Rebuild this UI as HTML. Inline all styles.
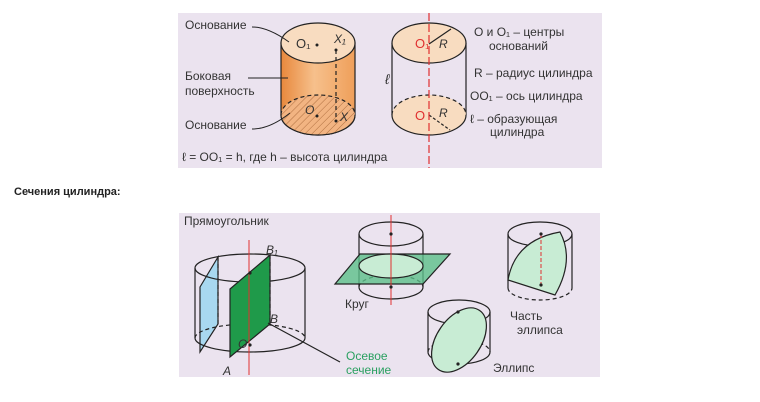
<!DOCTYPE html>
<html><head><meta charset="utf-8"><style>
body{margin:0;background:#fff;width:760px;height:402px;overflow:hidden;font-family:"Liberation Sans",sans-serif}
svg{position:absolute;left:0;top:0}
</style></head><body>
<svg width="760" height="402" viewBox="0 0 760 402" font-family="Liberation Sans, sans-serif">
<defs>
<linearGradient id="og" x1="0" x2="1"><stop offset="0" stop-color="#e8883c"/><stop offset="0.45" stop-color="#f6c08c"/><stop offset="1" stop-color="#ef9f5a"/></linearGradient>
<pattern id="hatch" width="5" height="5" patternUnits="userSpaceOnUse" patternTransform="rotate(45)"><rect width="5" height="5" fill="#f2b482"/><line x1="0" y1="0" x2="0" y2="5" stroke="#b07040" stroke-width="1"/></pattern>
</defs>
<g>
<rect x="178" y="13" width="424" height="155" fill="#ebe3ef"/>
<g stroke="#222" stroke-width="1.2">
<path d="M281 43 L281 115 A37 20 0 0 0 355 115 L355 43 Z" fill="url(#og)"/>
<ellipse cx="318" cy="115" rx="37" ry="20" fill="url(#hatch)" stroke="none"/>
<path d="M281 115 A37 20 0 0 1 355 115" fill="none" stroke-dasharray="4 3"/>
<path d="M281 115 A37 20 0 0 0 355 115" fill="none"/>
<ellipse cx="318" cy="43" rx="37" ry="20" fill="#f8dcc0"/>
<line x1="336" y1="50" x2="336" y2="121" stroke-dasharray="4 3"/>
</g>
<g fill="#222"><circle cx="317" cy="45" r="1.5"/><circle cx="336" cy="50" r="1.5"/><circle cx="317" cy="116" r="1.5"/><circle cx="336" cy="121" r="1.5"/></g>
<g stroke="#222" stroke-width="1.2">
<line x1="392" y1="43" x2="392" y2="115"/><line x1="466" y1="43" x2="466" y2="115"/>
<ellipse cx="429" cy="115" rx="37" ry="20" fill="#f8dcc0" stroke="none"/>
<path d="M392 115 A37 20 0 0 1 466 115" fill="none" stroke-dasharray="4 3"/>
<path d="M392 115 A37 20 0 0 0 466 115" fill="none"/>
<ellipse cx="429" cy="43" rx="37" ry="20" fill="#f8dcc0"/>
<line x1="429" y1="44" x2="451" y2="29"/>
<line x1="429" y1="115" x2="450" y2="130" stroke-dasharray="3 2"/>
<line x1="429" y1="13" x2="429" y2="168" stroke="#e03030" stroke-dasharray="8 3"/>
</g>
<g font-size="12" fill="#333">
<text x="185" y="29">Основание</text>
<text x="185" y="80">Боковая</text><text x="185" y="95">поверхность</text>
<text x="185" y="129">Основание</text>
<text x="296" y="48" font-size="13">O₁</text><text x="334" y="43" font-style="italic">X₁</text>
<text x="305" y="114" font-style="italic">O</text><text x="340" y="121" font-style="italic">X</text>
<text x="385" y="84" font-style="italic" font-size="14">ℓ</text>
<text x="415" y="48" fill="#e03030" font-size="13">O₁</text><text x="439" y="48" font-style="italic">R</text>
<text x="415" y="120" fill="#e03030" font-size="13">O</text><text x="439" y="117" font-style="italic">R</text>
<text x="474" y="36">O и O₁ – центры</text><text x="489" y="50">оснований</text>
<text x="474" y="77">R – радиус цилиндра</text>
<text x="470" y="100">OO₁ – ось цилиндра</text>
<text x="470" y="123">ℓ – образующая</text><text x="490" y="136">цилиндра</text>
<text x="182" y="161">ℓ = OO₁ = h,  где h – высота цилиндра</text>
</g>
<g stroke="#222" fill="none" stroke-width="1"><path d="M252 27 Q268 27 289 42"/><path d="M248 78 L288 78"/><path d="M252 129 Q270 129 290 113"/></g>
</g>
<text x="14" y="195" font-size="11" font-weight="bold" fill="#222">Сечения цилиндра:</text>
<g>
<rect x="179" y="213" width="421" height="164" fill="#ebe3ef"/>
<g stroke="#222" stroke-width="1.2" fill="none">
<polygon points="200,287 218,257 218,324 200,352" fill="#a8d8f0"/>
<line x1="195" y1="268" x2="195" y2="338"/><line x1="305" y1="268" x2="305" y2="338"/>
<path d="M195 338 A55 14 0 0 0 305 338"/>
<path d="M195 338 A55 14 0 0 1 305 338" stroke-dasharray="4 3"/>
<ellipse cx="250" cy="268" rx="55" ry="14"/>
<polygon points="230,289 270,255 270,324 230,357" fill="#1f9a4a"/>
<line x1="218" y1="257" x2="218" y2="324" stroke-dasharray="4 3"/>
<line x1="270" y1="255" x2="270" y2="324" stroke-dasharray="4 3"/>
<line x1="249" y1="240" x2="249" y2="375" stroke="#e03030" stroke-width="1"/>
<path d="M340 362 L268 323"/>
</g>
<g font-size="12" fill="#333">
<text x="184" y="225">Прямоугольник</text>
<text x="266" y="254" font-style="italic">B₁</text><text x="270" y="323" font-style="italic">B</text>
<text x="238" y="348" font-style="italic">O</text><text x="223" y="375" font-style="italic">A</text>
<text x="346" y="360" fill="#2aa060">Осевое</text><text x="346" y="374" fill="#2aa060">сечение</text>
<text x="345" y="308">Круг</text>
<text x="493" y="372">Эллипс</text>
<text x="510" y="320">Часть</text><text x="517" y="334">эллипса</text>
</g>
<g stroke="#222" stroke-width="1.2" fill="none">
<line x1="359" y1="234" x2="359" y2="287"/><line x1="423" y1="234" x2="423" y2="287"/>
<path d="M359 287 A32 12 0 0 0 423 287"/><path d="M359 287 A32 12 0 0 1 423 287" stroke-dasharray="4 3"/>
<ellipse cx="391" cy="234" rx="32" ry="12"/>
<polygon points="335,284 360,254 450,254 423,284" fill="#5cbf8a" fill-opacity="0.8"/>
<ellipse cx="391" cy="266" rx="32" ry="12" fill="#c8ecd4"/>
<line x1="391" y1="215" x2="391" y2="305" stroke="#e03030" stroke-width="1"/>
</g>
<g stroke="#222" stroke-width="1.2" fill="none">
<line x1="428" y1="312" x2="428" y2="352"/><line x1="490" y1="312" x2="490" y2="352"/>
<path d="M428 352 A31 12 0 0 0 490 352"/><path d="M428 352 A31 12 0 0 1 490 352" stroke-dasharray="4 3"/>
<ellipse cx="459" cy="312" rx="31" ry="12"/>
<ellipse cx="459" cy="340" rx="22" ry="36" transform="rotate(35 459 340)" fill="#c8ecd4"/>
</g>
<g stroke="#222" stroke-width="1.2" fill="none">
<line x1="508" y1="234" x2="508" y2="288"/><line x1="572" y1="234" x2="572" y2="288"/>
<path d="M508 288 A32 12 0 0 0 572 288" stroke-dasharray="4 3"/>
<ellipse cx="540" cy="234" rx="32" ry="12"/>
<path d="M508 280 Q515 240 560 232 Q575 260 555 295 Z" fill="#c8ecd4"/>
<line x1="541" y1="234" x2="541" y2="285" stroke="#e03030" stroke-width="1" stroke-dasharray="4 2"/>
</g>
<g fill="#222"><circle cx="250" cy="273" r="1.6"/><circle cx="250" cy="345" r="1.6"/><circle cx="391" cy="234" r="1.6"/><circle cx="391" cy="287" r="1.6"/><circle cx="458" cy="312" r="1.6"/><circle cx="458" cy="364" r="1.6"/><circle cx="541" cy="234" r="1.6"/><circle cx="541" cy="285" r="1.6"/></g>
</g>
</svg>
</body></html>
